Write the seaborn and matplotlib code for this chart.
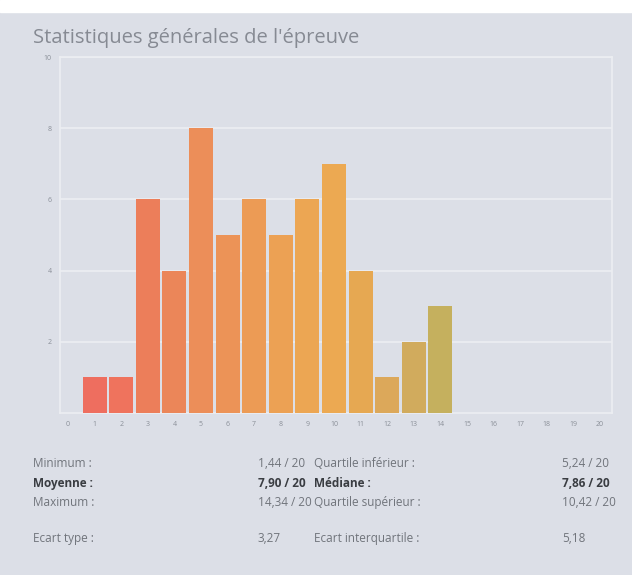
import matplotlib
matplotlib.use("Agg")
import matplotlib.pyplot as plt
import seaborn as sns
import numpy as np
import pandas as pd

# distribution des notes (nombre d'élèves par note)
notes = list(range(0, 21))
effectifs = [0, 1, 1, 6, 4, 8, 5, 6, 5, 6, 7, 4, 1, 2, 3, 0, 0, 0, 0, 0, 0]
couleurs = ["#ee6e5f", "#ee6e5f", "#ef735d", "#ec7e5a", "#eb8659", "#ec8e59",
            "#ec9357", "#ec9b55", "#eca154", "#eca653", "#eca952", "#e6a852",
            "#dca85a", "#d1ab5d", "#c5b05e", "#c5b05e", "#c5b05e", "#c5b05e",
            "#c5b05e", "#c5b05e", "#c5b05e"]
y_ticks = [2, 4, 6, 8, 10]

titre = "Statistiques générales de l'épreuve"
stats_gauche = [("Minimum :", "1,44 / 20"), ("Moyenne :", "7,90 / 20"),
                ("Maximum :", "14,34 / 20"), ("Ecart type :", "3,27")]
stats_droite = [("Quartile inférieur :", "5,24 / 20"), ("Médiane :", "7,86 / 20"),
                ("Quartile supérieur :", "10,42 / 20"), ("Ecart interquartile :", "5,18")]
gras = [False, True, False, False]

BG = "#dcdfe7"
W, H = 632, 575

sns.set_theme(style="white")
plt.rcParams['font.family'] = ['Open Sans', 'DejaVu Sans']

fig = plt.figure(figsize=(W / 100, H / 100), dpi=100, facecolor=BG)
# bande blanche en haut
fig.patches.append(plt.Rectangle((0, 1 - 12 / H), 1, 12 / H, transform=fig.transFigure,
                                 color="white", zorder=0))

ax = fig.add_axes([60 / W, 1 - 413 / H, 552 / W, 356 / H])
ax.set_facecolor(BG)

df = pd.DataFrame({"note": notes, "n": effectifs})
sns.barplot(data=df, x="note", y="n", hue="note", palette=couleurs, legend=False,
            saturation=1, width=0.9, ax=ax, zorder=3)
for p in ax.patches:
    p.set_edgecolor("none")

ax.set_ylim(0, 10)
ax.set_xlim(-0.3, 20.45)
ax.set_yticks(y_ticks)
ax.set_yticklabels([str(v) for v in y_ticks])
ax.set_xticks(range(len(notes)))
ax.set_xticklabels([str(v) for v in notes])
ax.tick_params(axis="both", labelsize=5, colors="#8a8f98", length=0, pad=6)
ax.grid(axis="y", color="#eceef2", linewidth=1.2, zorder=0)
ax.set_axisbelow(True)
for s in ax.spines.values():
    s.set_color("#eceef2")
    s.set_linewidth(1.2)
ax.set_xlabel("")
ax.set_ylabel("")

fig.text(33 / W, 1 - 38 / H, titre, fontsize=14.5, color="#868a93", va="center", ha="left")

# lignes de stats, alignées sur la ligne de base
rows_y = [467, 487, 506, 542]
for i, ((lg, vg), (ld, vd)) in enumerate(zip(stats_gauche, stats_droite)):
    y = 1 - rows_y[i] / H
    w = "bold" if gras[i] else "normal"
    c = "#3a3d42" if gras[i] else "#70747b"
    fig.text(33 / W, y, lg, fontsize=8.5, color=c, weight=w, va="baseline")
    fig.text(258 / W, y, vg, fontsize=8.5, color=c, weight=w, va="baseline")
    fig.text(314 / W, y, ld, fontsize=8.5, color=c, weight=w, va="baseline")
    fig.text(562 / W, y, vd, fontsize=8.5, color=c, weight=w, va="baseline")

fig.savefig("out.png", dpi=100, facecolor=BG)
